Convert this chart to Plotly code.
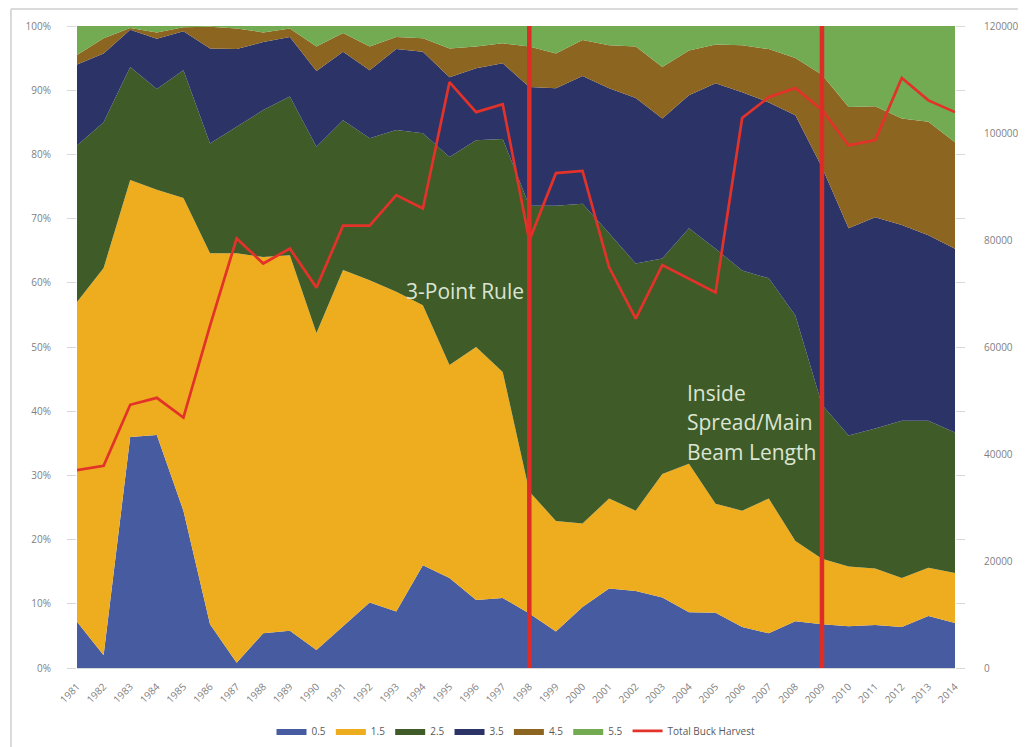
import plotly.graph_objects as go

years = list(range(1981, 2015))

# Percentage share of harvest by age class
age_05 = [7.2, 2.0, 36.0, 36.3, 24.5, 6.8, 0.8, 5.4, 5.8, 2.8, 6.5, 10.2, 8.8, 16.0, 14.0, 10.6, 10.9,
          8.5, 5.7, 9.5, 12.4, 12.0, 11.0, 8.7, 8.6, 6.4, 5.4, 7.3, 6.8, 6.5, 6.7, 6.4, 8.1, 7.0]
age_15 = [49.8, 60.3, 40.0, 38.2, 48.7, 57.8, 63.8, 58.6, 58.5, 49.4, 55.5, 50.2, 49.8, 40.5, 33.2, 39.4, 35.2,
          19.0, 17.2, 13.0, 14.0, 12.5, 19.2, 23.1, 17.0, 18.1, 21.0, 12.5, 10.2, 9.3, 8.8, 7.6, 7.5, 7.8]
age_25 = [24.4, 22.7, 17.6, 15.7, 19.9, 17.1, 19.7, 22.9, 24.7, 29.0, 23.3, 22.1, 25.2, 26.8, 32.4, 32.2, 36.3,
          44.5, 49.1, 49.8, 41.3, 38.5, 33.6, 36.7, 39.7, 37.4, 34.3, 35.1, 24.0, 20.4, 21.8, 24.5, 22.9, 21.9]
age_35 = [12.6, 10.7, 5.8, 7.8, 6.1, 14.8, 12.1, 10.6, 9.3, 11.8, 10.7, 10.6, 12.6, 12.7, 12.4, 11.2, 11.8,
          18.5, 18.3, 19.9, 22.6, 25.8, 21.8, 20.7, 25.8, 27.8, 27.4, 31.2, 37.0, 32.3, 32.9, 30.5, 28.9, 28.6]
age_45 = [1.5, 2.4, 0.3, 1.0, 0.6, 3.4, 3.2, 1.5, 1.3, 3.8, 2.9, 3.7, 1.9, 2.1, 4.5, 3.4, 3.1,
          6.3, 5.4, 5.6, 6.7, 8.0, 8.0, 7.0, 6.0, 7.3, 8.3, 8.9, 14.4, 18.9, 17.3, 16.6, 17.7, 16.6]
age_55 = [4.5, 1.9, 0.3, 1.0, 0.2, 0.1, 0.4, 1.0, 0.4, 3.2, 1.1, 3.2, 1.7, 1.9, 3.5, 3.2, 2.7,
          3.2, 4.3, 2.2, 3.0, 3.2, 6.4, 3.8, 2.9, 3.0, 3.6, 5.0, 7.6, 12.6, 12.5, 14.4, 14.9, 18.1]

total_harvest = [37000, 37800, 49200, 50500, 46800, 64000, 80300, 75600, 78400, 71100, 82700, 82700,
                 88400, 85900, 109500, 103900, 105400, 79900, 92500, 92900, 74900, 65300, 75300,
                 72800, 70200, 102800, 106700, 108400, 104300, 97700, 98700, 110300, 106100, 103900]

series_names = ["0.5", "1.5", "2.5", "3.5", "4.5", "5.5"]
series_values = [age_05, age_15, age_25, age_35, age_45, age_55]
series_colors = ["#465ba0", "#edad1f", "#3f5b28", "#2c3467", "#8c6521", "#72ab52"]

pct_ticks = list(range(0, 101, 10))
pct_labels = [f"{v}%" for v in pct_ticks]
harvest_ticks = list(range(0, 120001, 20000))

rule_years = [1998, 2009]
rule_labels = ["3-Point Rule", "Inside", "Spread/Main", "Beam Length"]

fig = go.Figure()
for name, vals, col in zip(series_names, series_values, series_colors):
    fig.add_trace(go.Scatter(
        x=years, y=vals, name=name, mode="lines", stackgroup="one", groupnorm="percent",
        line=dict(width=0, color=col), fillcolor=col, hoverinfo="x+y+name"))

fig.add_trace(go.Scatter(
    x=years, y=total_harvest, name="Total Buck Harvest", mode="lines",
    line=dict(color="#e2322a", width=2.7), yaxis="y2"))

for yr in rule_years:
    fig.add_shape(type="line", xref="x", yref="paper", x0=yr, x1=yr, y0=0, y1=1,
                  line=dict(color="#de2d26", width=4.5), layer="above")

txt_font = dict(family="Open Sans, sans-serif", size=21, color="#dbe5d3")
fig.add_annotation(x=1993.3, y=58.7, xref="x", yref="y", text=rule_labels[0], showarrow=False,
                   xanchor="left", yanchor="middle", font=txt_font)
for lab, yv in zip(rule_labels[1:], [42.9, 38.3, 33.7]):
    fig.add_annotation(x=2003.85, y=yv, xref="x", yref="y", text=lab, showarrow=False,
                       xanchor="left", yanchor="middle", font=txt_font)

# chart frame (top and left)
fig.add_shape(type="line", xref="paper", yref="paper", x0=-0.0752, x1=1.2, y0=1.0265, y1=1.0265,
              line=dict(color="#cfcfcf", width=1.5))
fig.add_shape(type="line", xref="paper", yref="paper", x0=-0.0752, x1=-0.0752, y0=-0.2, y1=1.0265,
              line=dict(color="#cfcfcf", width=1.5))

tick_font = dict(family="Open Sans, sans-serif", size=10, color="#7f7f7f")
fig.update_layout(
    width=1018, height=739,
    margin=dict(l=69, r=71, t=18, b=79),
    paper_bgcolor="white", plot_bgcolor="white",
    showlegend=True,
    legend=dict(orientation="h", x=0.5, xanchor="center", xref="paper",
                y=0.0217, yanchor="middle", yref="container",
                font=dict(family="Open Sans, sans-serif", size=10, color="#595959"),
                itemwidth=30, traceorder="normal"),
    xaxis=dict(range=[1981, 2014], tickmode="array", tickvals=years,
               ticktext=[str(y) for y in years], tickangle=-45, tickfont=tick_font,
               showgrid=False, zeroline=False, showline=True, linecolor="#d9d9d9", ticks="",
               ticklabelstandoff=8, automargin=False),
    yaxis=dict(range=[0, 100], tickmode="array", tickvals=pct_ticks, ticktext=pct_labels,
               tickfont=tick_font, showgrid=False, zeroline=False, ticks="outside",
               ticklen=9, tickcolor="#d9d9d9", mirror="ticks", ticklabelstandoff=14,
               automargin=False),
    yaxis2=dict(range=[0, 120000], tickmode="array", tickvals=harvest_ticks,
                ticktext=[str(v) for v in harvest_ticks], overlaying="y",
                side="right", tickfont=tick_font, showgrid=False, zeroline=False,
                ticks="", ticklabelstandoff=28, automargin=False),
)

fig.write_html("out.html")
